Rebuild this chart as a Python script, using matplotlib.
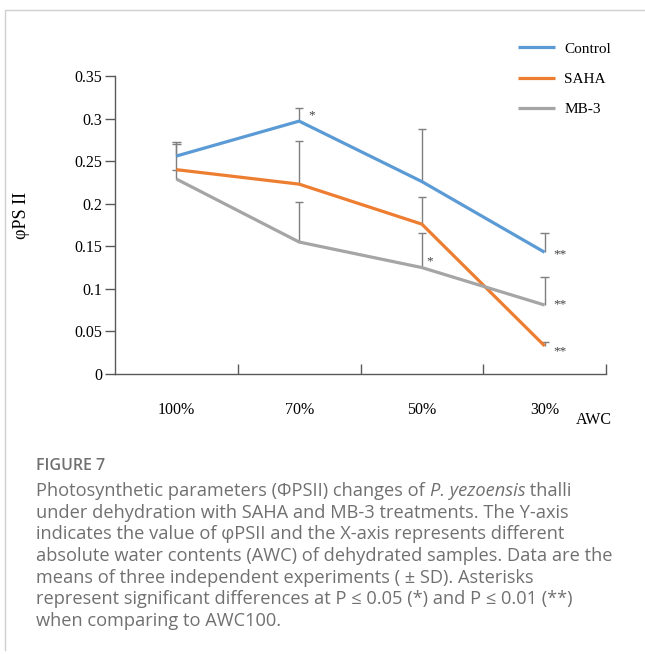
import numpy as np
import matplotlib
matplotlib.use("Agg")
import matplotlib.pyplot as plt
from matplotlib.lines import Line2D

# --- data ---
awc_labels = ["100%", "70%", "50%", "30%"]
series_names = ["Control", "SAHA", "MB-3"]
control_mean = [0.256, 0.297, 0.226, 0.143]
control_sd = [0.016, 0.015, 0.062, 0.023]
saha_mean = [0.240, 0.223, 0.176, 0.033]
saha_sd = [0.030, 0.051, 0.032, 0.005]
mb3_mean = [0.229, 0.155, 0.125, 0.081]
mb3_sd = [0.011, 0.047, 0.041, 0.033]
yticks = [0, 0.05, 0.1, 0.15, 0.2, 0.25, 0.3, 0.35]
ytick_labels = ["0", "0.05", "0.1", "0.15", "0.2", "0.25", "0.3", "0.35"]

# significance marks: (series index, point index, text, anchored at top of SD?)
sig_marks = [
    (0, 1, "*", True),
    (2, 2, "*", False),
    (0, 3, "**", False),
    (2, 3, "**", False),
    (1, 3, "**", False),
]
sig_offsets = [(13, -7), (8, 6), (15, -2), (15, 1), (15, -5)]  # pixels

colors = ["#5B9BD5", "#ED7D31", "#A5A5A5"]
means = [control_mean, saha_mean, mb3_mean]
sds = [control_sd, saha_sd, mb3_sd]

W, H = 645, 654
def fx(px):
    return px / W
def fy(py):
    return 1 - py / H

serif = "Liberation Serif"
axis_col = "#595959"

fig = plt.figure(figsize=(W / 100, H / 100), dpi=100)
fig.patch.set_facecolor("white")

# panel frame (top and left only)
fig.add_artist(Line2D([fx(5), fx(5), 1], [fy(650), fy(10), fy(10)], color="#cfcfcf", lw=1))

ax = fig.add_axes([fx(115), fy(374), (606 - 115) / W, (374 - 76) / H])
x = np.arange(1, len(awc_labels) + 1)

for i, name in enumerate(series_names):
    m = np.array(means[i])
    s = np.array(sds[i])
    # upward-only error bars
    ax.vlines(x, m, m + s, color="#7f7f7f", lw=1, zorder=2)
    ax.hlines(m + s, x - 0.035, x + 0.035, color="#7f7f7f", lw=1, zorder=2)
for i, name in enumerate(series_names):
    ax.plot(x, means[i], color=colors[i], lw=2.3, label=name, zorder=3,
            solid_capstyle="butt")

for (si, pi, txt, top), (dx, dy) in zip(sig_marks, sig_offsets):
    yv = means[si][pi] + (sds[si][pi] if top else 0)
    ax.annotate(txt, xy=(x[pi], yv), xytext=(dx, dy), textcoords="offset pixels",
                ha="center", va="center", fontsize=9.5, family=serif, color="#404040")

ax.set_xlim(0.5, len(awc_labels) + 0.5)
ax.set_ylim(0, 0.35)
ax.set_yticks(yticks)
ax.set_yticklabels(ytick_labels, family=serif, fontsize=11.5)
ax.tick_params(axis="y", direction="out", length=7, width=1, color=axis_col, pad=2)

ax.set_xticks(x + 0.5)
ax.set_xticklabels([])
ax.tick_params(axis="x", which="major", direction="in", length=7, width=1, color=axis_col)
ax.set_xticks(x, minor=True)
ax.set_xticklabels(awc_labels, minor=True, family=serif, fontsize=11.5)
ax.tick_params(axis="x", which="minor", length=0, pad=20)

for sp in ["top", "right"]:
    ax.spines[sp].set_visible(False)
for sp in ["left", "bottom"]:
    ax.spines[sp].set_color(axis_col)
    ax.spines[sp].set_linewidth(1)

fig.text(fx(594), fy(420), "AWC", ha="center", va="center", family=serif, fontsize=11.5)
fig.text(fx(22), fy(215), "\u03c6PS II", ha="center", va="center", rotation=90,
         family=serif, fontsize=13)

ax.legend(loc="upper left", bbox_to_anchor=(fx(518), fy(42)), bbox_transform=fig.transFigure,
          frameon=False, prop={"family": serif, "size": 11}, handlelength=2.42,
          handletextpad=0.6, labelspacing=1.08, borderpad=0, borderaxespad=0)

# --- caption ---
cap_col = "#707070"
cap_font = ["Open Sans", "DejaVu Sans"]
cap_size = 13.15
fig.text(fx(36), fy(466), "FIGURE 7", ha="left", va="center", family=cap_font,
         fontsize=11.5, color=cap_col, weight="semibold")

caption_lines = [
    [("Photosynthetic parameters (\u03a6PSII) changes of ", "normal"), ("P. yezoensis", "italic"), (" thalli", "normal")],
    [("under dehydration with SAHA and MB-3 treatments. The Y-axis", "normal")],
    [("indicates the value of \u03c6PSII and the X-axis represents different", "normal")],
    [("absolute water contents (AWC) of dehydrated samples. Data are the", "normal")],
    [("means of three independent experiments ( \u00b1 SD). Asterisks", "normal")],
    [("represent significant differences at P \u2264 0.05 (*) and P \u2264 0.01 (**)", "normal")],
    [("when comparing to AWC100.", "normal")],
]
renderer = fig.canvas.get_renderer()
for k, parts in enumerate(caption_lines):
    xp = 36
    for txt, style in parts:
        t = fig.text(fx(xp), fy(491 + k * 21.7), txt, ha="left", va="center",
                     family=cap_font, style=style, fontsize=cap_size, color=cap_col)
        bb = t.get_window_extent(renderer)
        xp += bb.width

fig.savefig("out.png", dpi=100)
